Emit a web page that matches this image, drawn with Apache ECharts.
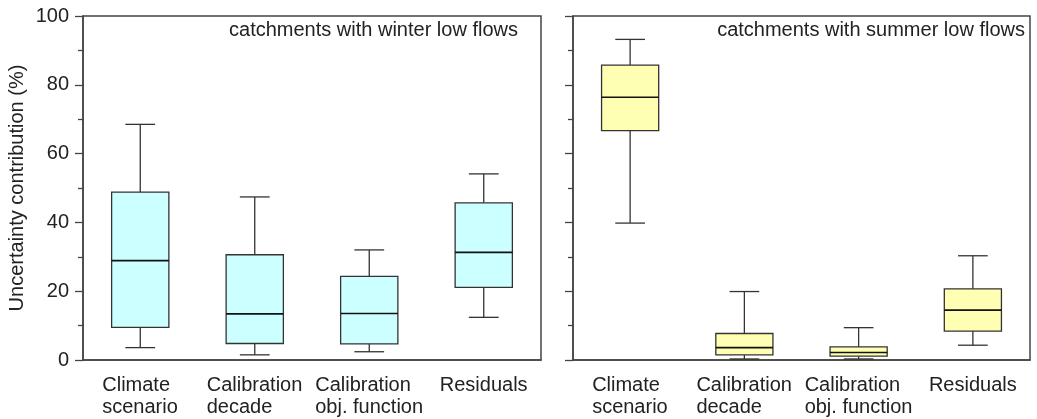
<!DOCTYPE html>
<html>
<head>
<meta charset="utf-8">
<script src="https://cdn.jsdelivr.net/npm/echarts@6/dist/echarts.min.js"></script>
<style>
  html, body { margin: 0; padding: 0; background: #fff; }
  #chart { width: 1037px; height: 419px; }
</style>
</head>
<body>
<div id="chart"></div>
<script>
// box statistics: [min, Q1, median, Q3, max]
const categories = ['Climate\nscenario', 'Calibration\ndecade', 'Calibration\nobj. function', 'Residuals'];
const winterLowFlows = [
  [3.6, 9.5, 28.9, 48.8, 68.5],
  [1.5, 4.8, 13.4, 30.6, 47.4],
  [2.4, 4.7, 13.5, 24.3, 32.0],
  [12.4, 21.1, 31.3, 45.7, 54.1]
];
const summerLowFlows = [
  [39.8, 66.7, 76.4, 85.7, 93.2],
  [0.3, 1.5, 3.6, 7.7, 19.9],
  [0.3, 1.1, 2.2, 3.8, 9.4],
  [4.3, 8.4, 14.5, 20.7, 30.3]
];
const yTicks = [0, 20, 40, 60, 80, 100];

const lineColor = '#333';
const axisColor = '#444';
const textColor = '#222';
const font = 'Liberation Sans, Arial, sans-serif';
const labelSize = 20;

// lines of each category label are left aligned, block centred on the tick
const measureCtx = document.createElement('canvas').getContext('2d');
measureCtx.font = labelSize + 'px ' + font;
const labelRich = {};
categories.forEach((c, i) => {
  const w = Math.max.apply(null, c.split('\n').map(s => measureCtx.measureText(s).width));
  labelRich['c' + i] = {
    width: Math.ceil(w), align: 'left', color: textColor,
    fontSize: labelSize, fontFamily: font, lineHeight: 22
  };
});

function renderBox(fill) {
  return function (params, api) {
    const i = api.value(0);
    const band = api.size([1, 0])[0];
    const half = band * 0.25;
    const cap = band * 0.13;
    const pMin = api.coord([i, api.value(1)]);
    const pQ1 = api.coord([i, api.value(2)]);
    const pMed = api.coord([i, api.value(3)]);
    const pQ3 = api.coord([i, api.value(4)]);
    const pMax = api.coord([i, api.value(5)]);
    const x = pMed[0];
    const ls = { stroke: lineColor, lineWidth: 1.3 };
    return {
      type: 'group',
      children: [
        { type: 'line', shape: { x1: x, y1: pQ3[1], x2: x, y2: pMax[1] }, style: ls },
        { type: 'line', shape: { x1: x, y1: pQ1[1], x2: x, y2: pMin[1] }, style: ls },
        { type: 'line', shape: { x1: x - cap, y1: pMax[1], x2: x + cap, y2: pMax[1] }, style: ls },
        { type: 'line', shape: { x1: x - cap, y1: pMin[1], x2: x + cap, y2: pMin[1] }, style: ls },
        { type: 'rect', shape: { x: x - half, y: pQ3[1], width: half * 2, height: pQ1[1] - pQ3[1] },
          style: { fill: fill, stroke: lineColor, lineWidth: 1.3 } },
        { type: 'line', shape: { x1: x - half, y1: pMed[1], x2: x + half, y2: pMed[1] },
          style: { stroke: '#111', lineWidth: 1.6 } }
      ]
    };
  };
}

function toRows(stats) {
  return stats.map((s, i) => [i].concat(s));
}

function xAxisOf(gridIndex) {
  return {
    type: 'category',
    gridIndex: gridIndex,
    data: categories,
    axisLine: { lineStyle: { color: axisColor, width: 1.5 } },
    axisTick: { alignWithLabel: true, length: 8, lineStyle: { color: axisColor, width: 1.3 } },
    axisLabel: {
      interval: 0, margin: 14, lineHeight: 22,
      formatter: function (value, index) {
        return value.split('\n').map(s => '{c' + index + '|' + s + '}').join('\n');
      },
      rich: labelRich
    },
    splitLine: { show: false }
  };
}

function yAxisOf(gridIndex, withLabels) {
  return {
    type: 'value',
    gridIndex: gridIndex,
    min: yTicks[0],
    max: yTicks[yTicks.length - 1],
    interval: 20,
    name: withLabels ? 'Uncertainty contribution (%)' : '',
    nameLocation: 'middle',
    nameGap: 56,
    nameTextStyle: { color: textColor, fontSize: labelSize, fontFamily: font },
    axisLine: { show: true, lineStyle: { color: axisColor, width: 1.5 } },
    axisTick: { show: true, length: 8, lineStyle: { color: axisColor, width: 1.3 } },
    minorTick: { show: true, splitNumber: 2, length: 5, lineStyle: { color: axisColor, width: 1.3 } },
    axisLabel: { show: withLabels, color: textColor, fontSize: labelSize, fontFamily: font, margin: 14 },
    splitLine: { show: false }
  };
}

const chart = echarts.init(document.getElementById('chart'));
chart.setOption({
  animation: false,
  backgroundColor: '#fff',
  title: [
    { text: 'catchments with winter low flows', right: 519, top: 20,
      textStyle: { fontSize: 20, fontWeight: 'normal', color: textColor, fontFamily: font }, padding: 0 },
    { text: 'catchments with summer low flows', right: 12, top: 20,
      textStyle: { fontSize: 20, fontWeight: 'normal', color: textColor, fontFamily: font }, padding: 0 }
  ],
  grid: [
    { left: 83, right: 496, top: 16, bottom: 59, outerBoundsMode: 'none', show: true,
      borderColor: axisColor, borderWidth: 1.5, backgroundColor: 'transparent' },
    { left: 573, right: 7, top: 16, bottom: 59, outerBoundsMode: 'none', show: true,
      borderColor: axisColor, borderWidth: 1.5, backgroundColor: 'transparent' }
  ],
  xAxis: [xAxisOf(0), xAxisOf(1)],
  yAxis: [yAxisOf(0, true), yAxisOf(1, false)],
  series: [
    {
      type: 'custom', name: 'winter', xAxisIndex: 0, yAxisIndex: 0,
      renderItem: renderBox('#ccffff'),
      encode: { x: 0, y: [1, 2, 3, 4, 5] },
      data: toRows(winterLowFlows)
    },
    {
      type: 'custom', name: 'summer', xAxisIndex: 1, yAxisIndex: 1,
      renderItem: renderBox('#ffffb3'),
      encode: { x: 0, y: [1, 2, 3, 4, 5] },
      data: toRows(summerLowFlows)
    }
  ]
});
</script>
</body>
</html>
